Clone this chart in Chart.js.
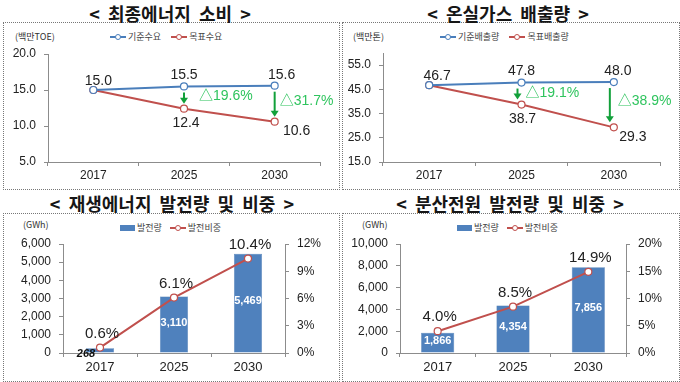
<!DOCTYPE html>
<html>
<head>
<meta charset="utf-8">
<script src="https://cdn.jsdelivr.net/npm/chart.js"></script>
<style>
    body {
        margin: 0;
        width: 680px;
        height: 382px;
        background: #fff;
        position: relative;
        overflow: hidden;
        font-family: 'Noto Sans CJK KR', sans-serif;
    }
    .title {
        position: absolute;
        font-weight: bold;
        font-size: 18px;
        line-height: 20px;
        color: #161616;
        text-align: center;
        width: 340px;
        white-space: pre;
    }
    .box { position: absolute; border: 1px dotted #777; }
    canvas { position: absolute; }
    .unit { position: absolute; font-size: 9px; color: #333; line-height: 10px; }
    .leg { position: absolute; font-size: 9px; color: #444; line-height: 10px; display: flex; align-items: center; }
    .mk { position: relative; display: inline-block; width: 16px; height: 2px; margin-right: 2px; }
    .mk i { position: absolute; left: 5px; top: -2px; width: 4px; height: 4px; border-radius: 50%; background: #fff; border: 1px solid; }
    .sw { display: inline-block; width: 15px; height: 6px; margin-right: 2px; }
</style>
</head>
<body>
<div class="box" style="left:3px;top:22px;width:335px;height:166px"></div>
<div class="box" style="left:342px;top:22px;width:336px;height:166px"></div>
<div class="box" style="left:3px;top:213px;width:335px;height:167px"></div>
<div class="box" style="left:342px;top:213px;width:336px;height:167px"></div>

<div class="title" style="left:0px;top:3px">&lt;  최종에너지  소비  &gt;</div>
<div class="title" style="left:338px;top:3px">&lt;  온실가스  배출량  &gt;</div>
<div class="title" style="left:2px;top:193px">&lt;  재생에너지  발전량  및  비중  &gt;</div>
<div class="title" style="left:340px;top:193px">&lt;  분산전원  발전량  및  비중  &gt;</div>

<div class="unit" style="left:15px;top:32px">(백만TOE)</div>
<div class="unit" style="left:353px;top:32px">(백만톤)</div>
<div class="unit" style="left:23px;top:220px">(GWh)</div>
<div class="unit" style="left:362px;top:220px">(GWh)</div>

<div class="leg" id="leg1" style="left:110px;top:32px"></div>
<div class="leg" id="leg2" style="left:440px;top:32px"></div>
<div class="leg" id="leg3" style="left:120px;top:223px"></div>
<div class="leg" id="leg4" style="left:457px;top:223px"></div>

<canvas id="c1" width="332" height="163" style="left:4px;top:24px"></canvas>
<canvas id="c2" width="332" height="163" style="left:344px;top:24px"></canvas>
<canvas id="c3" width="332" height="166" style="left:4px;top:214px"></canvas>
<canvas id="c4" width="332" height="166" style="left:344px;top:214px"></canvas>

<script>
    // data
    const years = ['2017', '2025', '2030'];

    const energyNames = ['기준수요', '목표수요'];
    const energyBase = [15.0, 15.5, 15.6];
    const energyTarget = [15.0, 12.4, 10.6];
    const energyCut = ['', '△19.6%', '△31.7%'];

    const ghgNames = ['기준배출량', '목표배출량'];
    const ghgBase = [46.7, 47.8, 48.0];
    const ghgTarget = [46.7, 38.7, 29.3];
    const ghgCut = ['', '△19.1%', '△38.9%'];

    const genNames = ['발전량', '발전비중'];
    const renewGen = [268, 3110, 5469];
    const renewShare = [0.6, 6.1, 10.4];
    const distGen = [1866, 4354, 7856];
    const distShare = [4.0, 8.5, 14.9];

    const BLUE = '#4a7ebb';
    const RED = '#c0504d';
    const BAR = '#4f81bd';
    const GREEN_ARROW = '#12a03a';
    const GREEN_TEXT = '#2fc45e';
    const AXIS = '#8c8c8c';
    const FONT = "'Liberation Sans', 'Noto Sans CJK KR', sans-serif";

    function lineLegend(el, names, colors) {
        el.innerHTML = names.map((n, k) =>
            '<span class="mk" style="background:' + colors[k] + '"><i style="border-color:' + colors[k] + '"></i></span>' +
            '<span style="margin-right:' + (k === 0 ? 10 : 0) + 'px">' + n + '</span>').join('');
    }
    function barLegend(el, names) {
        el.innerHTML = '<span class="sw" style="background:' + BAR + '"></span><span style="margin-right:8px">' + names[0] + '</span>' +
            '<span class="mk" style="background:' + RED + '"><i style="border-color:' + RED + '"></i></span><span>' + names[1] + '</span>';
    }
    lineLegend(document.getElementById('leg1'), energyNames, [BLUE, RED]);
    lineLegend(document.getElementById('leg2'), ghgNames, [BLUE, RED]);
    barLegend(document.getElementById('leg3'), genNames);
    barLegend(document.getElementById('leg4'), genNames);

    function drawText(ctx, text, x, y, font, color, align) {
        ctx.save();
        ctx.font = font;
        ctx.fillStyle = color;
        ctx.textAlign = align || 'center';
        ctx.textBaseline = 'middle';
        ctx.fillText(text, x, y);
        ctx.restore();
    }

    // evenly stepped ticks from min, stopping at or below lastTick
    function stepTicks(min, step, lastTick) {
        return function (s) {
            const t = [];
            for (let v = min; v <= lastTick + 1e-9; v += step) t.push({ value: v });
            s.ticks = t;
        };
    }

    // value labels, cut arrows for the line panels
    function linePlugin(base, target, cuts, offs) {
        return {
            id: 'lineLabels',
            afterDatasetsDraw(chart) {
                const ctx = chart.ctx;
                const b = chart.getDatasetMeta(0).data;
                const t = chart.getDatasetMeta(1).data;
                const f = '14px ' + FONT;
                for (let i = 0; i < years.length; i++) {
                    drawText(ctx, base[i].toFixed(1), b[i].x + offs.base[i][0], b[i].y + offs.base[i][1], f, '#222');
                    if (i === 0) continue;
                    drawText(ctx, target[i].toFixed(1), t[i].x + offs.target[i][0], t[i].y + offs.target[i][1], f, '#222');
                    // arrow
                    const x = b[i].x + offs.arrowX[i];
                    const y0 = b[i].y + 6, y1 = t[i].y - 5;
                    ctx.save();
                    ctx.strokeStyle = GREEN_ARROW;
                    ctx.fillStyle = GREEN_ARROW;
                    ctx.lineWidth = 2;
                    ctx.beginPath();
                    ctx.moveTo(x, y0);
                    ctx.lineTo(x, y1 - 5);
                    ctx.stroke();
                    ctx.beginPath();
                    ctx.moveTo(x - 4, y1 - 6);
                    ctx.lineTo(x + 4, y1 - 6);
                    ctx.lineTo(x, y1);
                    ctx.closePath();
                    ctx.fill();
                    ctx.restore();
                    drawText(ctx, cuts[i], x + offs.cut[i][0], (y0 + y1) / 2 + offs.cut[i][1], '14px ' + FONT, GREEN_TEXT, 'left');
                }
            }
        };
    }

    function lineChart(id, names, base, target, cuts, yMin, yMax, yStep, lastTick, yW, offs) {
        const tickFont = { family: FONT, size: 12 };
        return new Chart(document.getElementById(id), {
            type: 'line',
            data: {
                labels: years,
                datasets: [
                    { label: names[0], data: base, borderColor: BLUE, backgroundColor: '#fff', borderWidth: 2,
                      pointRadius: 3.5, pointBorderWidth: 1.2, pointBorderColor: BLUE, pointBackgroundColor: '#fff' },
                    { label: names[1], data: target, borderColor: RED, backgroundColor: '#fff', borderWidth: 2,
                      pointRadius: 3.5, pointBorderWidth: 1.2, pointBorderColor: RED, pointBackgroundColor: '#fff' }
                ]
            },
            options: {
                responsive: false,
                animation: false,
                layout: { padding: { top: yMax === 60 ? 29 : 30, right: 16, left: 0, bottom: 0 } },
                plugins: { legend: { display: false }, tooltip: { enabled: false } },
                scales: {
                    x: {
                        offset: true,
                        grid: { offset: true, drawOnChartArea: false, tickLength: 4, color: AXIS },
                        border: { color: AXIS },
                        ticks: { font: tickFont, color: '#222', padding: 2 },
                        afterFit(s) { s.height = 25; }
                    },
                    y: {
                        min: yMin, max: yMax,
                        grid: { drawOnChartArea: false, tickLength: 4, color: AXIS },
                        border: { color: AXIS },
                        ticks: { autoSkip: false, font: tickFont, color: '#222', padding: 8,
                                 callback: v => v.toFixed(1) },
                        afterBuildTicks: stepTicks(yMin, yStep, lastTick),
                        afterFit(s) { s.width = yW; }
                    }
                }
            },
            plugins: [linePlugin(base, target, cuts, offs)]
        });
    }

    lineChart('c1', energyNames, energyBase, energyTarget, energyCut, 5, 20, 5, 20, 44, {
        base: [[5, -9], [0, -11], [7, -11]],
        target: [[0, 0], [2, 14], [22, 9]],
        arrowX: [0, 0, 0],
        cut: [[0, 0], [15, -2], [5, -3]]
    });
    lineChart('c2', ghgNames, ghgBase, ghgTarget, ghgCut, 15, 60, 10, 55, 39, {
        base: [[8, -9], [0, -11], [4, -11]],
        target: [[0, 0], [1, 15], [19, 10]],
        arrowX: [0, -4, -4],
        cut: [[0, 0], [8, -1], [8, -4]]
    });

    // value labels for the bar + share panels
    function barPlugin(gen, share) {
        return {
            id: 'barLabels',
            afterDatasetsDraw(chart) {
                const ctx = chart.ctx;
                const bars = chart.getDatasetMeta(0).data;
                const pts = chart.getDatasetMeta(1).data;
                for (let i = 0; i < years.length; i++) {
                    const b = bars[i];
                    const txt = gen[i].toLocaleString('en-US');
                    if (b.base - b.y < 16) {
                        drawText(ctx, txt, b.x - 14, b.base + 1, 'italic bold 11px ' + FONT, '#111');
                    } else {
                        drawText(ctx, txt, b.x, (b.y + b.base) / 2 - 2, 'bold 11px ' + FONT, '#fff');
                    }
                    drawText(ctx, share[i].toFixed(1) + '%', pts[i].x + 2, pts[i].y - 14, '15px ' + FONT, '#222');
                }
            }
        };
    }

    function barChart(id, gen, share, yMax, yStep, y1Max, y1Step, leftW, rightW, barPct) {
        const tickFont = { family: FONT, size: 12 };
        return new Chart(document.getElementById(id), {
            type: 'bar',
            data: {
                labels: years,
                datasets: [
                    { label: genNames[0], data: gen, backgroundColor: BAR, borderColor: '#3f6fa8', borderWidth: 0.5,
                      barPercentage: barPct, categoryPercentage: 1, yAxisID: 'y', order: 2 },
                    { type: 'line', label: genNames[1], data: share, borderColor: RED, borderWidth: 2,
                      pointRadius: 3.5, pointBorderWidth: 1.2, pointBorderColor: RED, pointBackgroundColor: '#fff',
                      yAxisID: 'y1', order: 1 }
                ]
            },
            options: {
                responsive: false,
                animation: false,
                layout: { padding: { top: 30, right: 0, left: 0, bottom: 0 } },
                plugins: { legend: { display: false }, tooltip: { enabled: false } },
                scales: {
                    x: {
                        grid: { offset: true, drawOnChartArea: false, tickLength: 4, color: AXIS },
                        border: { color: AXIS },
                        ticks: { font: { family: FONT, size: 13 }, color: '#222', padding: 3 },
                        afterFit(s) { s.height = 27; }
                    },
                    y: {
                        min: 0, max: yMax,
                        grid: { drawOnChartArea: false, tickLength: 4, color: AXIS },
                        border: { color: AXIS },
                        ticks: { autoSkip: false, font: tickFont, color: '#222', padding: 8,
                                 callback: v => v.toLocaleString('en-US') },
                        afterBuildTicks: stepTicks(0, yStep, yMax),
                        afterFit(s) { s.width = leftW; }
                    },
                    y1: {
                        position: 'right',
                        min: 0, max: y1Max,
                        grid: { drawOnChartArea: false, tickLength: 4, color: AXIS },
                        border: { color: AXIS },
                        ticks: { autoSkip: false, font: tickFont, color: '#222', padding: 8,
                                 callback: v => v + '%' },
                        afterBuildTicks: stepTicks(0, y1Step, y1Max),
                        afterFit(s) { s.width = rightW; }
                    }
                }
            },
            plugins: [barPlugin(gen, share)]
        });
    }

    barChart('c3', renewGen, renewShare, 6000, 1000, 12, 3, 59, 51, 0.38);
    barChart('c4', distGen, distShare, 10000, 2000, 20, 5, 56, 50, 0.44);
</script>
</body>
</html>
